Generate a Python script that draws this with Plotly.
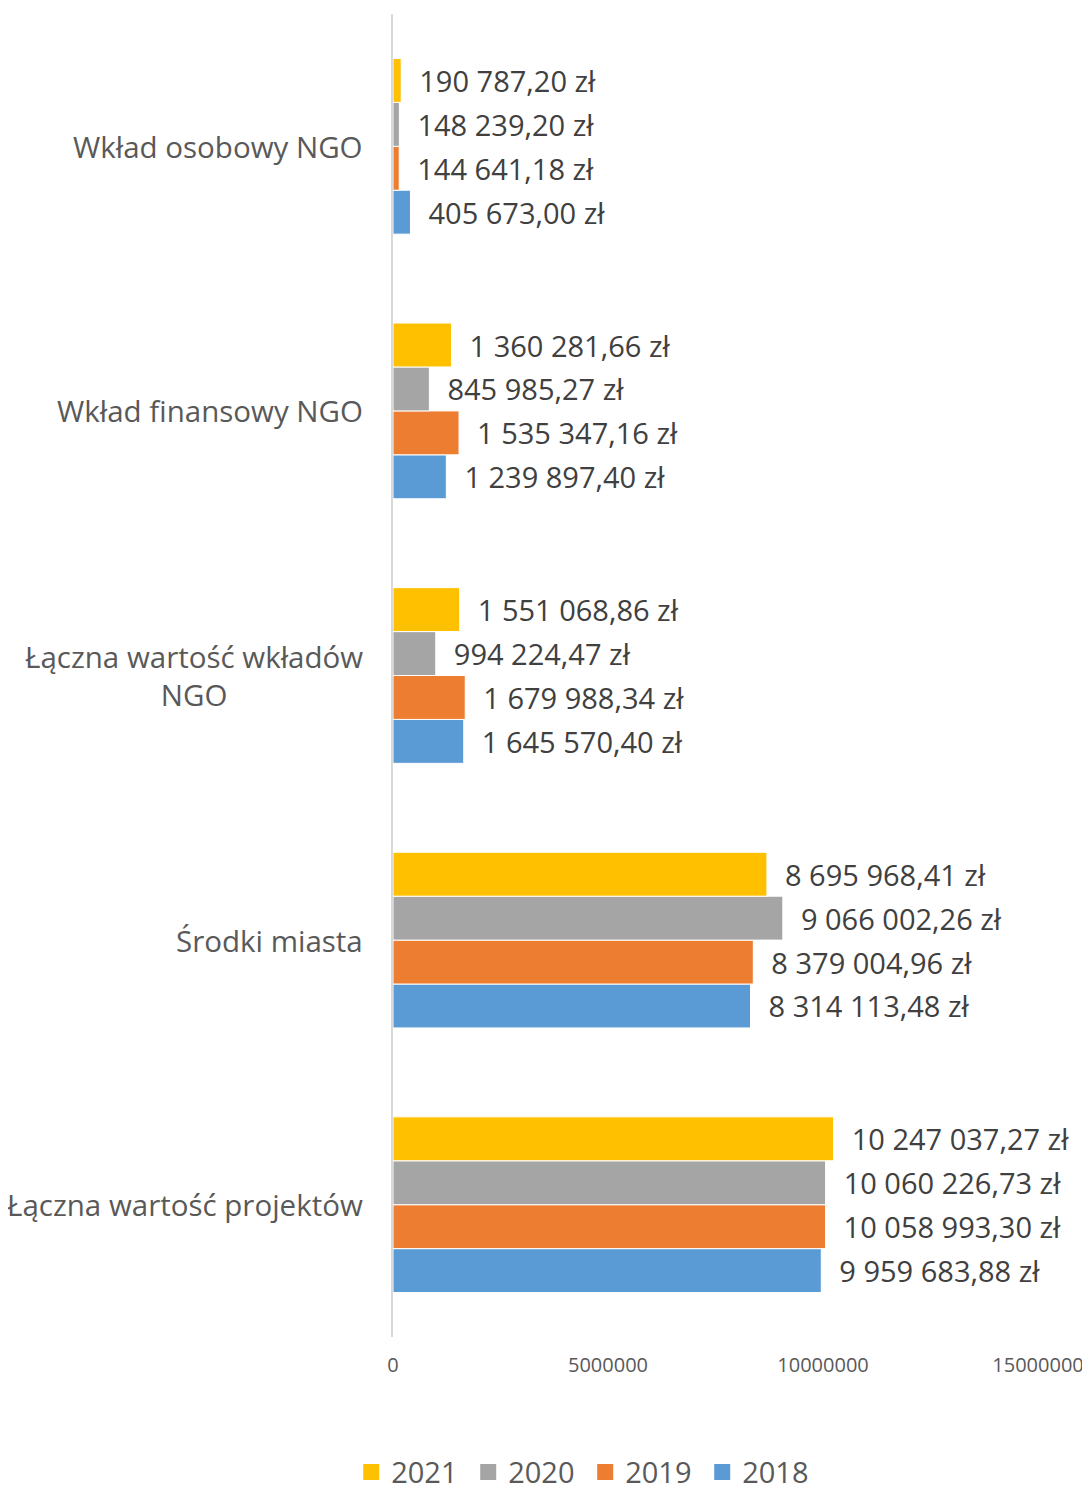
import plotly.graph_objects as go

categories = ["Łączna wartość projektów", "Środki miasta", "Łączna wartość wkładów NGO",
              "Wkład finansowy NGO", "Wkład osobowy NGO"]
category_labels = ["Łączna wartość projektów", "Środki miasta", "Łączna wartość wkładów<br>NGO",
                   "Wkład finansowy NGO", "Wkład osobowy NGO"]

v2018 = [9959683.88, 8314113.48, 1645570.40, 1239897.40, 405673.00]
v2019 = [10058993.30, 8379004.96, 1679988.34, 1535347.16, 144641.18]
v2020 = [10060226.73, 9066002.26, 994224.47, 845985.27, 148239.20]
v2021 = [10247037.27, 8695968.41, 1551068.86, 1360281.66, 190787.20]

series_names = ["2018", "2019", "2020", "2021"]
series_values = [v2018, v2019, v2020, v2021]
colors = ["#5B9BD5", "#ED7D31", "#A5A5A5", "#FFC000"]

tick_vals = [0, 5000000, 10000000, 15000000]
tick_text = ["0", "5000000", "10000000", "15000000"]

FONT = "Open Sans"


def pl_fmt(v):
    s = f"{v:,.2f}"
    s = s.replace(",", " ").replace(".", ",")
    return "\u00a0\u00a0" + s + " zł"


fig = go.Figure()
for name, vals, col in zip(series_names, series_values, colors):
    fig.add_trace(go.Bar(
        y=categories, x=vals, name=name, orientation="h",
        marker=dict(color=col, line=dict(color="white", width=1)),
        text=[pl_fmt(v) for v in vals], textposition="outside",
        textfont=dict(family=FONT, size=29, color="#404040"),
        constraintext="none", cliponaxis=False, showlegend=False,
    ))
    # legend-only entry with a larger square symbol
    fig.add_trace(go.Scatter(
        x=[None], y=[None], mode="markers", name=name,
        marker=dict(symbol="square", size=18, color=col),
        showlegend=True, hoverinfo="skip",
    ))

for cat, lab in zip(categories, category_labels):
    fig.add_annotation(
        x=0, xref="paper", y=cat, yref="y", text=lab, showarrow=False,
        xanchor="right", yanchor="middle", align="center", xshift=-28,
        font=dict(family=FONT, size=29.5, color="#595959"),
    )

fig.update_layout(
    width=1082, height=1482,
    margin=dict(l=385, r=52, t=6, b=153, autoexpand=False),
    paper_bgcolor="white", plot_bgcolor="white",
    barmode="group", bargap=0.336, bargroupgap=0,
    font=dict(family=FONT, color="#595959"),
    showlegend=True,
    legend=dict(orientation="h", traceorder="reversed", x=0.298, xanchor="center",
                yref="container", y=0.012, yanchor="middle",
                font=dict(family=FONT, size=29, color="#595959"),
                itemwidth=30, entrywidth=72, entrywidthmode="pixels"),
    xaxis=dict(range=[0, 15000000], tickvals=tick_vals, ticktext=tick_text,
               showgrid=False, zeroline=False, showline=False,
               ticks="", ticklabelstandoff=14,
               tickfont=dict(family=FONT, size=20, color="#595959")),
    yaxis=dict(categoryorder="array", categoryarray=categories,
               showticklabels=False, showgrid=False, zeroline=False,
               showline=True, linecolor="#D9D9D9", linewidth=2, ticks=""),
)

fig.write_html("out.html")
